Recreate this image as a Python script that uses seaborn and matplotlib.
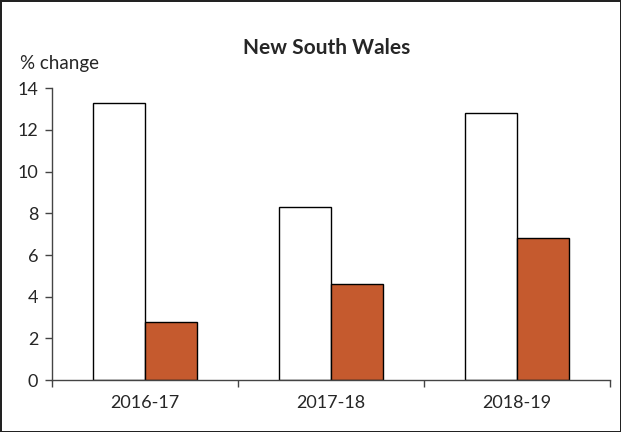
import matplotlib
matplotlib.use("Agg")
import matplotlib.pyplot as plt
import seaborn as sns
import pandas as pd

# data
years = ["2016-17", "2017-18", "2018-19"]
series_names = ["Series A", "Series B"]
series_a = [13.3, 8.3, 12.8]
series_b = [2.8, 4.6, 6.8]
y_ticks = [0, 2, 4, 6, 8, 10, 12, 14]

df = pd.DataFrame({
    "year": years * 2,
    "series": [series_names[0]] * 3 + [series_names[1]] * 3,
    "value": series_a + series_b,
})

sns.set_style("white")
plt.rcParams["font.family"] = ["Lato", "DejaVu Sans"]

fig = plt.figure(figsize=(6.21, 4.32), dpi=100)
ax = fig.add_axes([0.0837, 0.12, 0.8983, 0.676])

sns.barplot(data=df, x="year", y="value", hue="series", order=years,
            hue_order=series_names, palette=["white", "#C55A2E"],
            saturation=1, width=0.56, gap=0, edgecolor="black", linewidth=1,
            legend=False, ax=ax)

ax.set_xlim(-0.5, 2.5)
ax.set_ylim(0, 14)
ax.set_yticks(y_ticks)
ax.set_xlabel("")
ax.set_ylabel("")

# tick marks sit between categories
ax.set_xticks([-0.5, 0.5, 1.5, 2.5], minor=True)
ax.tick_params(axis="x", which="major", length=0, pad=11, labelsize=13)
ax.tick_params(axis="x", which="minor", length=5, width=1, direction="out",
               color="#444444", bottom=True)
ax.tick_params(axis="y", length=5, width=1, direction="out", color="#444444",
               left=True, labelsize=13, pad=5)

for s in ["top", "right"]:
    ax.spines[s].set_visible(False)
for s in ["left", "bottom"]:
    ax.spines[s].set_color("#444444")
    ax.spines[s].set_linewidth(1)

fig.text(0.526, 0.89, "New South Wales", ha="center", va="center",
         fontsize=15, fontweight="bold")
fig.text(0.033, 0.852, "% change", ha="left", va="center", fontsize=13.5)

fig.patch.set_edgecolor("#222222")
fig.patch.set_linewidth(2)

fig.savefig("out.png", dpi=100, edgecolor=fig.get_edgecolor())
